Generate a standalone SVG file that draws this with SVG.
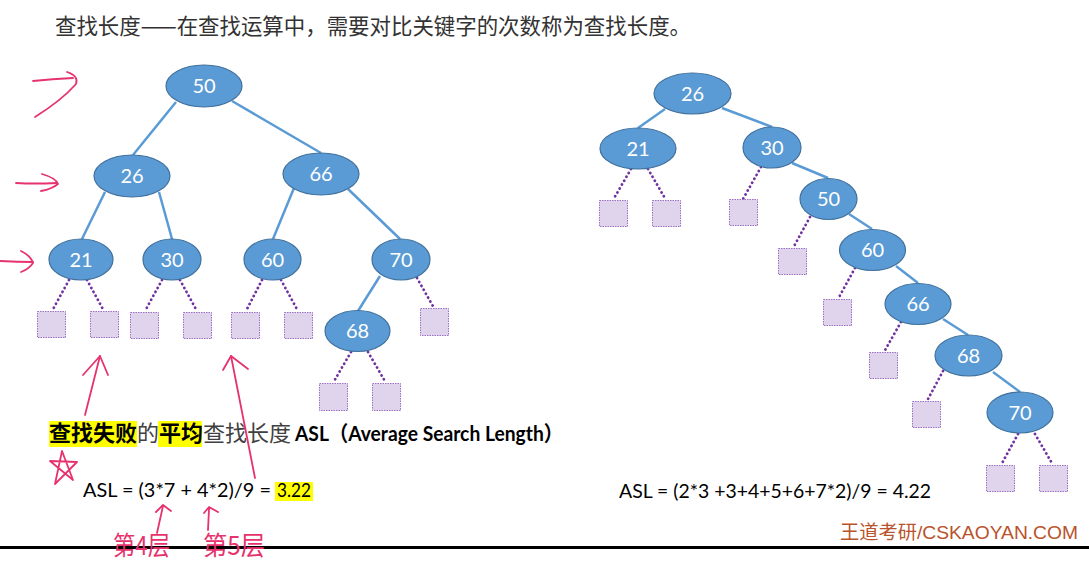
<svg xmlns="http://www.w3.org/2000/svg" width="1089" height="563" viewBox="0 0 1089 563">
<style>
.n ellipse{fill:#5b9bd5;stroke:#41719c;stroke-width:1.2}
.n text{fill:#fff;font-family:Lato,"Open Sans",sans-serif;font-size:20px;text-anchor:middle}
.sq{fill:#e0d4ec;stroke:#9b6fc4;stroke-width:1;stroke-dasharray:1.5 1}
.e{stroke:#5b9bd5;stroke-width:2.5;fill:none}
.d{stroke:#7030a0;stroke-width:2.8;fill:none;stroke-dasharray:0.1 4.4;stroke-linecap:round}
.p{stroke:#e6336e;stroke-width:1.8;fill:none;stroke-linecap:round;stroke-linejoin:round}
.cjk{font-family:"Noto Sans CJK SC",sans-serif}
.lat{font-family:Lato,"Open Sans","Noto Sans CJK SC",sans-serif}
</style>
<rect width="1089" height="563" fill="#fff"/>
<text class="cjk" x="55" y="34" font-size="22" fill="#333" textLength="636" lengthAdjust="spacingAndGlyphs">查找长度——在查找运算中，需要对比关键字的次数称为查找长度。</text>

<g id="connectors">
<line class="e" x1="176" y1="102" x2="133" y2="155"/>
<line class="e" x1="232" y1="101" x2="321" y2="153"/>
<line class="e" x1="105" y1="192" x2="82" y2="239"/>
<line class="e" x1="159" y1="192" x2="172" y2="239"/>
<line class="e" x1="294" y1="188" x2="273" y2="239"/>
<line class="e" x1="348" y1="189" x2="400" y2="239"/>
<line class="e" x1="380" y1="276" x2="358" y2="311"/>
<line class="d" x1="69" y1="280" x2="52" y2="311"/>
<line class="d" x1="87" y1="280" x2="104" y2="311"/>
<line class="d" x1="162" y1="280" x2="145" y2="311"/>
<line class="d" x1="180" y1="280" x2="197" y2="311"/>
<line class="d" x1="262" y1="280" x2="246" y2="311"/>
<line class="d" x1="281" y1="280" x2="298" y2="311"/>
<line class="d" x1="417" y1="278" x2="434" y2="308"/>
<line class="d" x1="351" y1="352" x2="333" y2="383"/>
<line class="d" x1="368" y1="352" x2="386" y2="383"/>

<line class="e" x1="665" y1="109" x2="638" y2="128"/>
<line class="e" x1="722" y1="108" x2="772" y2="127"/>
<line class="e" x1="792" y1="163" x2="828" y2="178"/>
<line class="e" x1="849" y1="214" x2="872" y2="229"/>
<line class="e" x1="896" y1="266" x2="918" y2="283"/>
<line class="e" x1="943" y1="319" x2="968" y2="335"/>
<line class="e" x1="993" y1="372" x2="1020" y2="392"/>
<line class="d" x1="631" y1="169" x2="613" y2="200"/>
<line class="d" x1="648" y1="169" x2="666" y2="200"/>
<line class="d" x1="761" y1="167" x2="743" y2="199"/>
<line class="d" x1="810" y1="217" x2="793" y2="248"/>
<line class="d" x1="855" y1="268" x2="838" y2="299"/>
<line class="d" x1="901" y1="322" x2="884" y2="352"/>
<line class="d" x1="943" y1="371" x2="927" y2="401"/>
<line class="d" x1="1018" y1="434" x2="1001" y2="465"/>
<line class="d" x1="1035" y1="434" x2="1053" y2="465"/>
</g>

<g id="left-tree">
<g id="L50" class="n"><ellipse cx="204" cy="86" rx="38" ry="21"/><text x="204" y="93">50</text></g>
<g id="L26" class="n"><ellipse cx="132" cy="176" rx="38" ry="21"/><text x="132" y="183">26</text></g>
<g id="L66" class="n"><ellipse cx="321" cy="174" rx="38" ry="21"/><text x="321" y="181">66</text></g>
<g id="L21" class="n"><ellipse cx="81" cy="259.5" rx="32" ry="20.5"/><text x="81" y="266.5">21</text></g>
<g id="L30" class="n"><ellipse cx="172" cy="259.5" rx="29" ry="20.5"/><text x="172" y="266.5">30</text></g>
<g id="L60" class="n"><ellipse cx="272.5" cy="259.5" rx="28.5" ry="20.5"/><text x="272.5" y="266.5">60</text></g>
<g id="L70" class="n"><ellipse cx="401" cy="259.5" rx="29" ry="20.5"/><text x="401" y="266.5">70</text></g>
<g id="L68" class="n"><ellipse cx="357.5" cy="331" rx="32.5" ry="20.5"/><text x="357.5" y="338">68</text></g>
<g id="L-fail">
<rect class="sq" x="37.5" y="311.5" width="28" height="26"/>
<rect class="sq" x="90.5" y="311.5" width="28" height="26"/>
<rect class="sq" x="130.5" y="312.5" width="28" height="26"/>
<rect class="sq" x="183.5" y="312.5" width="28" height="26"/>
<rect class="sq" x="231.5" y="312.5" width="28" height="26"/>
<rect class="sq" x="284.5" y="312.5" width="28" height="26"/>
<rect class="sq" x="420.5" y="308.5" width="28" height="27"/>
<rect class="sq" x="319.5" y="383.5" width="28" height="27"/>
<rect class="sq" x="372.5" y="383.5" width="28" height="27"/>
</g>
</g>

<g id="right-tree">
<g id="R26" class="n"><ellipse cx="692.5" cy="93.5" rx="38.5" ry="20.5"/><text x="692.5" y="100.5">26</text></g>
<g id="R21" class="n"><ellipse cx="638" cy="148.5" rx="38" ry="20.5"/><text x="638" y="155.5">21</text></g>
<g id="R30" class="n"><ellipse cx="772" cy="147.5" rx="29" ry="20.5"/><text x="772" y="154.5">30</text></g>
<g id="R50" class="n"><ellipse cx="828.5" cy="199" rx="28.5" ry="20.5"/><text x="828.5" y="206">50</text></g>
<g id="R60" class="n"><ellipse cx="872.5" cy="250" rx="33" ry="20.5"/><text x="872.5" y="257">60</text></g>
<g id="R66" class="n"><ellipse cx="918" cy="304" rx="33" ry="20.5"/><text x="918" y="311">66</text></g>
<g id="R68" class="n"><ellipse cx="968.5" cy="355.5" rx="33.5" ry="20.5"/><text x="968.5" y="362.5">68</text></g>
<g id="R70" class="n"><ellipse cx="1020" cy="412.5" rx="33" ry="20.5"/><text x="1020" y="419.5">70</text></g>
<g id="R-fail">
<rect class="sq" x="599.5" y="200.5" width="28" height="26"/>
<rect class="sq" x="652.5" y="200.5" width="28" height="26"/>
<rect class="sq" x="729.5" y="199.5" width="28" height="26"/>
<rect class="sq" x="778.5" y="248.5" width="28" height="26"/>
<rect class="sq" x="823.5" y="299.5" width="28" height="26"/>
<rect class="sq" x="869.5" y="352.5" width="28" height="26"/>
<rect class="sq" x="912.5" y="401.5" width="28" height="26"/>
<rect class="sq" x="986.5" y="465.5" width="28" height="26"/>
<rect class="sq" x="1039.5" y="465.5" width="28" height="26"/>
</g>
</g>

<g id="asl-text">
<rect x="49" y="421" width="88" height="26" fill="#ffff00"/>
<rect x="158" y="421" width="44" height="26" fill="#ffff00"/>
<text class="cjk" x="49" y="441" font-size="22" font-weight="bold" fill="#000" textLength="88">查找失败</text>
<text class="cjk" x="137" y="441" font-size="22" fill="#404040">的</text>
<text class="cjk" x="159" y="441" font-size="22" font-weight="bold" fill="#000" textLength="44">平均</text>
<text class="cjk" x="203" y="441" font-size="22" fill="#404040" textLength="88">查找长度</text>
<text class="lat" x="295" y="441" font-size="21" font-weight="bold" fill="#000" textLength="268" lengthAdjust="spacingAndGlyphs">ASL（Average Search Length）</text>

<rect x="275" y="482" width="38" height="19" fill="#ffff00"/>
<text class="lat" x="83" y="497" font-size="19" fill="#000" textLength="188" lengthAdjust="spacingAndGlyphs">ASL = (3*7 + 4*2)/9 =</text>
<text class="lat" x="277" y="497" font-size="19" fill="#000" textLength="34" lengthAdjust="spacingAndGlyphs">3.22</text>
<text class="lat" x="619" y="498" font-size="19" fill="#000" textLength="312" lengthAdjust="spacingAndGlyphs">ASL = (2*3 +3+4+5+6+7*2)/9 = 4.22</text>
<text x="840" y="539" font-size="19" fill="#b8532c" textLength="238" lengthAdjust="spacingAndGlyphs" font-family="'Liberation Sans','Noto Sans CJK SC',sans-serif">王道考研/CSKAOYAN.COM</text>
</g>

<line x1="0" y1="547.5" x2="1089" y2="547.5" stroke="#000" stroke-width="3"/>

<g id="annotations">
<path class="p" d="M33,81 Q52,79 73,78"/>
<path class="p" d="M67,72 Q79,76 76,84 Q62,100 35,117"/>
<path class="p" d="M16,183 Q35,184 57,183"/>
<path class="p" d="M42,174 Q56,178 58,184 Q52,189 41,191"/>
<path class="p" d="M0,261 Q18,262 33,262"/>
<path class="p" d="M21,251 Q31,256 33,263 Q29,269 21,272"/>
<path class="p" d="M85,415 L100,356"/>
<path class="p" d="M83,375 L100,356 L108,375"/>
<path class="p" d="M255,478 L231,356"/>
<path class="p" d="M223,370 L231,356 L248,369"/>
<path class="p" d="M62,451 L73,480 L50,461 L77,462 L55,484 Z"/>
<path class="p" d="M157,533 L163,506"/>
<path class="p" d="M156,512 L163,505 L171,511"/>
<path class="p" d="M208,530 L209,509"/>
<path class="p" d="M204,513 L209,507 L218,512"/>
<text class="cjk" x="113" y="555" font-size="26" fill="#e6336e" textLength="57" lengthAdjust="spacingAndGlyphs">第4层</text>
<text class="cjk" x="203" y="555" font-size="26" fill="#e6336e" textLength="62" lengthAdjust="spacingAndGlyphs">第5层</text>
</g>
</svg>
